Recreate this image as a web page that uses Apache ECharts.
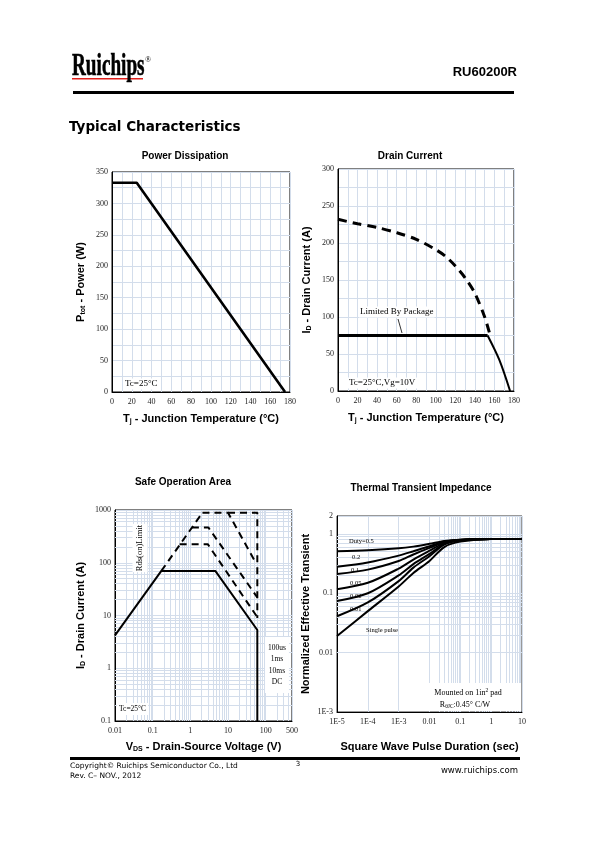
<!DOCTYPE html>
<html><head><meta charset="utf-8">
<script src="https://cdn.jsdelivr.net/npm/echarts@6/dist/echarts.min.js"></script>
<style>html,body{margin:0;padding:0;background:#fff}#c{width:598px;height:842px}</style>
</head><body><div id="c"></div>
<script>
// ---------- DATA ----------
// Power dissipation
const pdTemp = [0, 25, 175];
const pdPower = [333, 333, 0];
// Drain current
const idCurveTemp = [0, 20, 40, 60, 80, 100, 110, 120, 130, 140, 150, 155];
const idCurveCurrent = [232, 226, 221, 214, 205, 191, 182, 169, 153, 132, 100, 78];
const idPkgTemp = [0, 153];
const idPkgCurrent = [75, 75];
const idTailTemp = [153, 165, 176];
const idTailCurrent = [75, 42, 0];
// Safe operation area
const soaDcV = [0.01, 0.17, 4.6, 60, 60];
const soaDcI = [4.2, 70, 70, 5.3, 0.1];
const soaRdsV = [0.17, 2.1];
const soaRdsI = [70, 890];
const soa10msV = [0.52, 2.9, 60];
const soa10msI = [225, 225, 9.3];
const soa1msV = [1.1, 3, 60];
const soa1msI = [468, 468, 22];
const soa100usV = [2.1, 10, 50];
const soa100usI = [890, 890, 112];
const soaEdgeV = [10, 60, 60];
const soaEdgeI = [890, 890, 9];
// Thermal transient impedance
const ztTime = [1e-5, 1e-4, 1e-3, 3e-3, 1e-2, 3e-2, 0.1, 1, 10];
const zt05 = [0.51, 0.53, 0.57, 0.61, 0.68, 0.76, 0.8, 0.82, 0.82];
const zt02 = [0.28, 0.33, 0.43, 0.51, 0.62, 0.74, 0.8, 0.82, 0.82];
const zt01 = [0.21, 0.25, 0.35, 0.45, 0.58, 0.72, 0.79, 0.82, 0.82];
const zt005 = [0.117, 0.15, 0.26, 0.37, 0.52, 0.70, 0.79, 0.82, 0.82];
const zt002 = [0.074, 0.1, 0.2, 0.31, 0.46, 0.68, 0.78, 0.82, 0.82];
const zt001 = [0.041, 0.07, 0.16, 0.27, 0.42, 0.66, 0.77, 0.82, 0.82];
const ztSingle = [0.019, 0.05, 0.13, 0.22, 0.35, 0.6, 0.74, 0.82, 0.82];
// Tick labels
const soaXLabels = {0.01: '0.01', 0.1: '0.1', 1: '1', 10: '10', 100: '100', 500: '500'};
const soaYLabels = {0.1: '0.1', 1: '1', 10: '10', 100: '100', 1000: '1000'};
const ztXLabels = {0.00001: '1E-5', 0.0001: '1E-4', 0.001: '1E-3', 0.01: '0.01', 0.1: '0.1', 1: '1', 10: '10'};
const ztYLabels = {0.001: '1E-3', 0.01: '0.01', 0.1: '0.1', 1: '1', 2: '2'};

// ---------- STYLE ----------
const gridColor = '#d3ddeb';
const serif = '"Liberation Serif","DejaVu Serif",serif';
const sans = '"Liberation Sans",Arial,sans-serif';
const verd = '"DejaVu Sans",Verdana,sans-serif';

function zip(a, b) { return a.map((v, i) => [v, b[i]]); }
function logMinor(min, max) {
  const out = [];
  for (let e = Math.floor(Math.log10(min)); e <= Math.ceil(Math.log10(max)); e++) {
    for (let k = 2; k <= 9; k++) {
      const v = +(k * Math.pow(10, e)).toPrecision(6);
      if (v > min * 1.0001 && v < max * 0.9999) out.push(v);
    }
  }
  return out;
}
function fmtMap(map) { return v => { const k = +(+v).toPrecision(3); return map[k] !== undefined ? map[k] : ''; }; }
const tickFont = {fontFamily: serif, fontSize: 8, color: '#222'};
const nameRich = {
  b: {fontFamily: sans, fontWeight: 'bold', fontSize: 11, color: '#000', lineHeight: 13},
  s: {fontFamily: sans, fontWeight: 'bold', fontSize: 7, color: '#000', verticalAlign: 'bottom', lineHeight: 13, padding: [5, 0, 0, 0]}
};
function linAxis(idx, min, max, step, labelStep, name, gap, isY) {
  return {
    type: 'value', gridIndex: idx, min: min, max: max, interval: step,
    axisLine: {show: true, lineStyle: {color: '#000', width: 1}},
    axisTick: {show: false},
    axisLabel: Object.assign({margin: isY ? 4 : 6, hideOverlap: false, formatter: v => (v % labelStep === 0 ? String(v) : '')}, tickFont),
    splitLine: {show: true, lineStyle: {color: gridColor, width: 1}},
    name: name, nameLocation: 'middle', nameGap: gap, nameTextStyle: {rich: nameRich}
  };
}
function logAxis(idx, min, max, labels, name, gap, isY) {
  return {
    type: 'log', logBase: 10, gridIndex: idx, min: min, max: max,
    axisLine: {show: true, lineStyle: {color: '#000', width: 1}},
    axisTick: {show: false},
    axisLabel: Object.assign({margin: isY ? 4 : 6, hideOverlap: false, formatter: fmtMap(labels)}, tickFont),
    splitLine: {show: true, lineStyle: {color: gridColor, width: 1}},
    name: name, nameLocation: 'middle', nameGap: gap, nameTextStyle: {rich: nameRich}
  };
}
function gridSeries(idx, xs, ys, x0, y0) {
  return {
    type: 'line', xAxisIndex: idx, yAxisIndex: idx, data: [[x0, y0]], showSymbol: false, silent: true, z: 0,
    lineStyle: {width: 0},
    markLine: {silent: true, symbol: 'none', animation: false, label: {show: false},
      lineStyle: {color: gridColor, width: 1, type: 'solid'},
      emphasis: {disabled: true},
      data: xs.map(v => ({xAxis: v})).concat(ys.map(v => ({yAxis: v})))}
  };
}
function line(idx, data, opts) {
  return Object.assign({
    type: 'line', xAxisIndex: idx, yAxisIndex: idx, data: data, showSymbol: false, silent: true, z: 5,
    lineStyle: {color: '#000', width: 2}
  }, opts || {});
}

const chart = echarts.init(document.getElementById('c'), null, {renderer: 'canvas', width: 598, height: 842});

const titleStyle = {fontFamily: sans, fontWeight: 'bold', fontSize: 10, fill: '#000'};
function txt(x, y, text, style, extra) {
  return Object.assign({type: 'text', x: x, y: y, silent: true, z: 10, style: Object.assign({text: text}, style)}, extra || {});
}
const annot = {fontFamily: serif, fontSize: 9, fill: '#000'};
const dash = [7, 5];

const option = {
  animation: false,
  backgroundColor: '#fff',
  grid: [
    {left: 112, top: 172, width: 178, height: 220, show: true, borderColor: '#000', borderWidth: 1},
    {left: 338, top: 169, width: 176, height: 222, show: true, borderColor: '#000', borderWidth: 1},
    {left: 115, top: 510, width: 177, height: 211, show: true, borderColor: '#000', borderWidth: 1},
    {left: 337, top: 516, width: 185, height: 196, show: true, borderColor: '#333', borderWidth: 1}
  ],
  xAxis: [
    linAxis(0, 0, 180, 10, 20, '{b|T}{s|j}{b| - Junction Temperature (°C)}', 20, false),
    linAxis(1, 0, 180, 10, 20, '{b|T}{s|j}{b| - Junction Temperature (°C)}', 20, false),
    logAxis(2, 0.01, 500, soaXLabels, '{b|V}{s|DS}{b| - Drain-Source Voltage (V)}', 19, false),
    logAxis(3, 0.00001, 10, ztXLabels, '{b|Square Wave Pulse Duration (sec)}', 28, false)
  ],
  yAxis: [
    linAxis(0, 0, 350, 25, 50, '{b|P}{s|tot}{b| - Power (W)}', 25, true),
    linAxis(1, 0, 300, 25, 50, '{b|I}{s|D}{b| - Drain Current (A)}', 25, true),
    logAxis(2, 0.1, 1000, soaYLabels, '{b|I}{s|D}{b| - Drain Current (A)}', 28, true),
    logAxis(3, 0.001, 2, ztYLabels, '{b|Normalized Effective Transient}', 25, true)
  ],
  series: [
    line(0, zip(pdTemp, pdPower), {lineStyle: {color: '#000', width: 2.6}}),

    line(1, zip(idCurveTemp, idCurveCurrent), {smooth: 0.3, lineStyle: {color: '#000', width: 3, type: [9, 6]}}),
    line(1, zip(idPkgTemp, idPkgCurrent), {lineStyle: {color: '#000', width: 3}}),
    line(1, zip(idTailTemp, idTailCurrent), {smooth: 0.3, lineStyle: {color: '#000', width: 2}}),

    gridSeries(2, logMinor(0.01, 500), logMinor(0.1, 1000), 0.01, 0.1),
    line(2, zip(soaDcV, soaDcI), {lineStyle: {color: '#000', width: 2}}),
    line(2, zip(soaRdsV, soaRdsI), {lineStyle: {color: '#000', width: 2, type: dash}}),
    line(2, zip(soa10msV, soa10msI), {lineStyle: {color: '#000', width: 2, type: dash}}),
    line(2, zip(soa1msV, soa1msI), {lineStyle: {color: '#000', width: 2, type: dash}}),
    line(2, zip(soa100usV, soa100usI), {lineStyle: {color: '#000', width: 2, type: dash}}),
    line(2, zip(soaEdgeV, soaEdgeI), {lineStyle: {color: '#000', width: 2, type: dash}}),

    gridSeries(3, logMinor(0.00001, 10), logMinor(0.001, 2), 0.00001, 0.001),
    line(3, zip(ztTime, zt05), {smooth: 0.3}),
    line(3, zip(ztTime, zt02), {smooth: 0.3}),
    line(3, zip(ztTime, zt01), {smooth: 0.3}),
    line(3, zip(ztTime, zt005), {smooth: 0.3}),
    line(3, zip(ztTime, zt002), {smooth: 0.3}),
    line(3, zip(ztTime, zt001), {smooth: 0.3}),
    line(3, zip(ztTime, ztSingle), {smooth: 0.3})
  ],
  graphic: [
    // header
    txt(72, 67, 'Ruichips', {fontFamily: serif, fontWeight: 'bold', fontSize: 32, fill: '#000', verticalAlign: 'middle', stroke: '#000', lineWidth: 0.6}, {scaleX: 0.6}),
    {type: 'rect', silent: true, shape: {x: 72, y: 78, width: 71, height: 1.5}, style: {fill: '#e0201c'}},
    txt(145, 60, '®', {fontFamily: serif, fontSize: 8, fill: '#000', verticalAlign: 'middle'}),
    txt(517, 72, 'RU60200R', {fontFamily: sans, fontWeight: 'bold', fontSize: 13, fill: '#000', align: 'right', verticalAlign: 'middle'}),
    {type: 'rect', silent: true, shape: {x: 73, y: 91, width: 441, height: 3}, style: {fill: '#000'}},
    txt(69, 127, 'Typical Characteristics', {fontFamily: verd, fontWeight: 'bold', fontSize: 13.5, fill: '#000', verticalAlign: 'middle'}),
    // chart titles
    txt(185, 156, 'Power Dissipation', Object.assign({align: 'center', verticalAlign: 'middle'}, titleStyle)),
    txt(410, 156, 'Drain Current', Object.assign({align: 'center', verticalAlign: 'middle'}, titleStyle)),
    txt(183, 482, 'Safe Operation Area', Object.assign({align: 'center', verticalAlign: 'middle'}, titleStyle)),
    txt(421, 488, 'Thermal Transient Impedance', Object.assign({align: 'center', verticalAlign: 'middle'}, titleStyle)),
    // annotations chart 1
    txt(123, 384, 'Tc=25°C', Object.assign({verticalAlign: 'middle', backgroundColor: '#fff', padding: [1, 2, 1, 2]}, annot)),
    // chart 2
    txt(347, 383, 'Tc=25°C,Vg=10V', Object.assign({verticalAlign: 'middle', backgroundColor: '#fff', padding: [1, 2, 1, 2]}, annot)),
    txt(359, 312, 'Limited By Package', Object.assign({verticalAlign: 'middle', backgroundColor: '#fff', padding: [1, 1, 1, 1]}, annot)),
    {type: 'line', silent: true, z: 10, shape: {x1: 398, y1: 319, x2: 402, y2: 333}, style: {stroke: '#000', lineWidth: 0.8}},
    // chart 3
    txt(140, 548, 'Rds(on)Limit', Object.assign({align: 'center', verticalAlign: 'middle', backgroundColor: '#fff', padding: [3, 1, 3, 1]}, annot, {fontSize: 8.5}), {rotation: Math.PI / 2}),
    txt(277, 665, '100us\n1ms\n10ms\nDC', Object.assign({align: 'center', verticalAlign: 'middle', lineHeight: 11.5, backgroundColor: '#fff', padding: [5, 3, 5, 3]}, annot, {fontSize: 7.5})),
    txt(117, 709, 'Tc=25°C', Object.assign({verticalAlign: 'middle', backgroundColor: '#fff', padding: [2, 2, 2, 2]}, annot, {fontSize: 7.5})),
    // chart 4
    txt(349, 541, 'Duty=0.5', Object.assign({verticalAlign: 'middle'}, annot, {fontSize: 6.5})),
    txt(352, 557, '0.2', Object.assign({verticalAlign: 'middle'}, annot, {fontSize: 6.5})),
    txt(351, 570, '0.1', Object.assign({verticalAlign: 'middle'}, annot, {fontSize: 6.5})),
    txt(350, 583, '0.05', Object.assign({verticalAlign: 'middle'}, annot, {fontSize: 6.5})),
    txt(350, 596, '0.02', Object.assign({verticalAlign: 'middle'}, annot, {fontSize: 6.5})),
    txt(350, 609, '0.01', Object.assign({verticalAlign: 'middle'}, annot, {fontSize: 6.5})),
    txt(366, 630, 'Single pulse', Object.assign({verticalAlign: 'middle'}, annot, {fontSize: 6.5})),
    {type: 'rect', silent: true, z: 9, shape: {x: 425, y: 683, width: 96, height: 28}, style: {fill: '#fff'}},
    txt(468, 693, '{a|Mounted on 1in}{sup|2}{a| pad}', {rich: {a: {fontFamily: serif, fontSize: 8, fill: '#000'}, sup: {fontFamily: serif, fontSize: 5.5, fill: '#000', verticalAlign: 'top', padding: [0, 0, 5, 0]}}, align: 'center', verticalAlign: 'middle'}),
    txt(465, 705, '{a|R}{sub|θJC}{a|:0.45° C/W}', {rich: {a: {fontFamily: serif, fontSize: 8, fill: '#000'}, sub: {fontFamily: serif, fontSize: 5.5, fill: '#000', verticalAlign: 'bottom', padding: [4, 0, 0, 0]}}, align: 'center', verticalAlign: 'middle'}),
    // footer
    {type: 'rect', silent: true, shape: {x: 70, y: 757, width: 450, height: 3}, style: {fill: '#000'}},
    txt(70, 766, 'Copyright© Ruichips Semiconductor Co., Ltd', {fontFamily: verd, fontSize: 7.5, fill: '#000', verticalAlign: 'middle'}),
    txt(70, 776, 'Rev. C– NOV., 2012', {fontFamily: verd, fontSize: 7.5, fill: '#000', verticalAlign: 'middle'}),
    txt(298, 764, '3', {fontFamily: verd, fontSize: 7, fill: '#000', align: 'center', verticalAlign: 'middle'}),
    txt(518, 771, 'www.ruichips.com', {fontFamily: verd, fontSize: 8.5, fill: '#000', align: 'right', verticalAlign: 'middle'})
  ]
};
chart.setOption(option);
</script>
</body></html>
